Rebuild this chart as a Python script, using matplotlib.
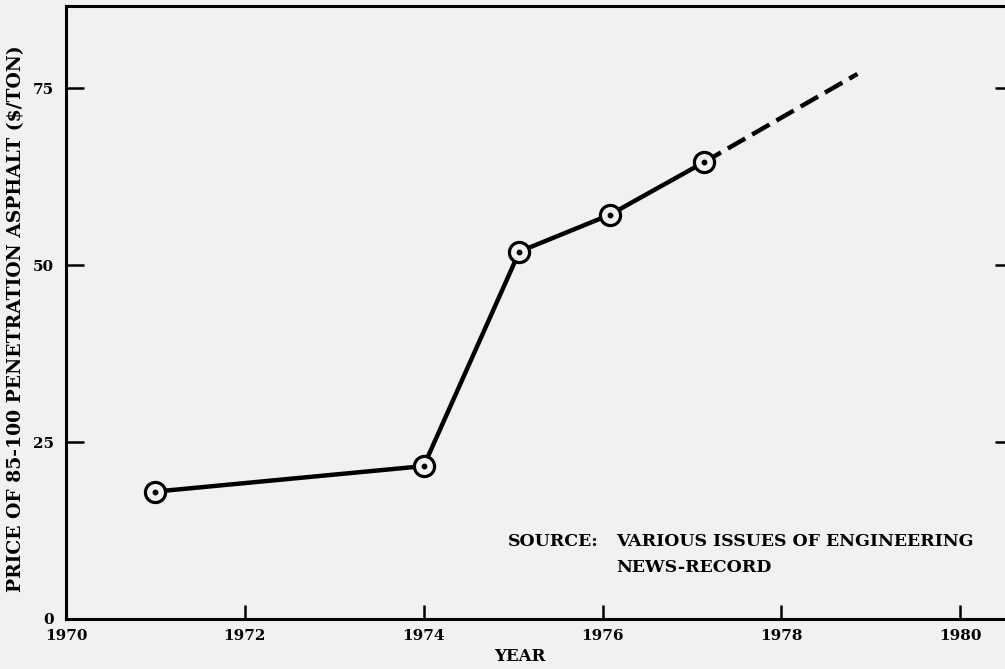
import matplotlib.pyplot as plt

# data
years = [1971.0, 1974.0, 1975.07, 1976.08, 1977.13]
price = [18.0, 21.6, 51.9, 57.1, 64.5]
proj_years = [1977.13, 1978.85]
proj_price = [64.5, 77.0]

xticks = [1970, 1972, 1974, 1976, 1978, 1980]
yticks = [0, 25, 50, 75]

plt.rcParams['font.family'] = 'DejaVu Serif'
plt.rcParams['font.weight'] = 'bold'

W, H = 1005, 669
bg = '#f1f1f0'
fig = plt.figure(figsize=(W / 100, H / 100), dpi=100, facecolor=bg)
# axes box in pixels: left 66, right 1013 (off image), top 6, bottom 619
ax = fig.add_axes([66 / W, 1 - 619 / H, (1013 - 66) / W, (619 - 6) / H])
ax.set_facecolor(bg)

ax.set_xlim(1970, 1980.59)
ax.set_ylim(0, 86.6)

# projection (dashed)
ax.plot(proj_years, proj_price, color='black', lw=3.2, ls=(0, (4.5, 1.8)),
        dash_capstyle='butt', zorder=2)
# observed prices
ax.plot(years, price, color='black', lw=3.2, zorder=3)
ax.plot(years, price, 'o', ms=14.5, mfc=bg, mec='black', mew=2.3, zorder=4)
ax.plot(years, price, 'o', ms=3.2, color='black', zorder=5)

for s in ax.spines.values():
    s.set_linewidth(2.2)

ax.set_xticks(xticks)
ax.set_yticks(yticks)
ax.tick_params(axis='x', direction='in', length=10, width=1.8, labelsize=11, pad=7)
ax.tick_params(axis='y', direction='in', length=13, width=1.8, labelsize=11, pad=9,
               right=True)

ax.set_xlabel('YEAR', fontsize=12, fontweight='bold')
ax.xaxis.set_label_coords((520 - 66) / (1013 - 66), -(648 - 619) / (619 - 6))
ax.set_ylabel('PRICE OF 85-100 PENETRATION ASPHALT ($/TON)', fontsize=13.5,
              fontweight='bold')
ax.yaxis.set_label_coords(-(66 - 25) / (1013 - 66), 0.49)

fs = 12.5
fig.text(508 / W, 1 - 542 / H, 'SOURCE:', fontsize=fs, fontweight='bold',
         va='center', ha='left')
fig.text(616 / W, 1 - 542 / H, 'VARIOUS ISSUES OF ENGINEERING', fontsize=fs,
         fontweight='bold', va='center', ha='left')
fig.text(616 / W, 1 - 567 / H, 'NEWS-RECORD', fontsize=fs, fontweight='bold',
         va='center', ha='left')

fig.savefig('out.png', dpi=100, facecolor=fig.get_facecolor())
